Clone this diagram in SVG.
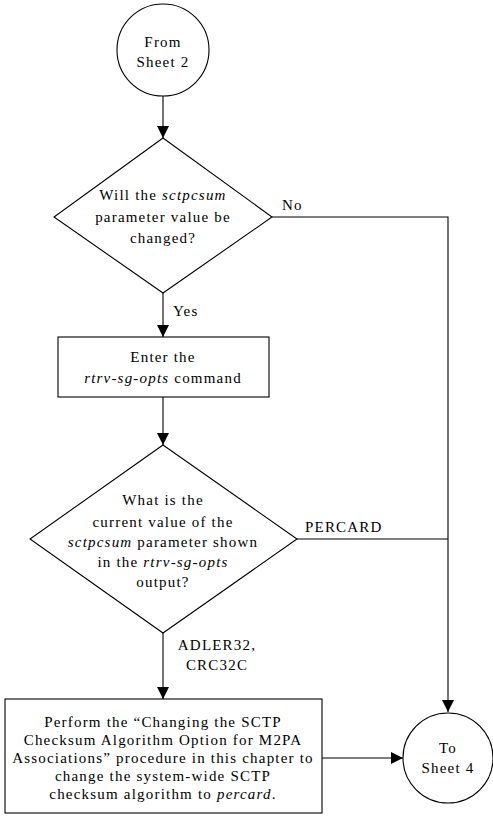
<svg xmlns="http://www.w3.org/2000/svg" width="493" height="819" viewBox="0 0 493 819">
<style>
.shape{fill:#fff;stroke:#000;stroke-width:1.1}
.line{fill:none;stroke:#000;stroke-width:1.1}
text{font-family:"Liberation Serif","Times New Roman",serif;font-size:15px;letter-spacing:1.2px;fill:#000}
.c{text-anchor:middle}
.i{font-style:italic}
</style>
<defs>
<marker id="arr" markerWidth="12" markerHeight="12" refX="12" refY="6" orient="auto" markerUnits="userSpaceOnUse">
<path d="M0,0 L12,6 L0,12 Z" fill="#000"/>
</marker>
</defs>
<rect width="493" height="819" fill="#fff"/>
<g id="connectors">
<line class="line" x1="163" y1="96" x2="163" y2="138" marker-end="url(#arr)"/>
<line class="line" x1="163" y1="293" x2="163" y2="337" marker-end="url(#arr)"/>
<line class="line" x1="163" y1="397" x2="163" y2="445" marker-end="url(#arr)"/>
<line class="line" x1="163" y1="633" x2="163" y2="699" marker-end="url(#arr)"/>
<polyline class="line" points="272,217 448,217 448,712" marker-end="url(#arr)"/>
<line class="line" x1="297" y1="539" x2="448" y2="539"/>
<line class="line" x1="322" y1="758" x2="403" y2="758" marker-end="url(#arr)"/>
<text x="282" y="210">No</text>
<text x="173" y="316">Yes</text>
<text x="305" y="532">PERCARD</text>
<text class="c" x="217" y="650">ADLER32,</text>
<text class="c" x="217" y="670">CRC32C</text>
</g>
<g id="from-sheet2">
<circle class="shape" cx="163" cy="50" r="46"/>
<text class="c" x="163" y="47">From</text>
<text class="c" x="163" y="67">Sheet 2</text>
</g>
<g id="decision1">
<polygon class="shape" points="163,138 272,217 163,293 54,217"/>
<text class="c" x="163" y="200">Will the <tspan class="i">sctpcsum</tspan></text>
<text class="c" x="163" y="222">parameter value be</text>
<text class="c" x="163" y="243">changed?</text>
</g>
<g id="enter-rtrv">
<rect class="shape" x="58" y="337" width="211" height="60"/>
<text class="c" x="163" y="362">Enter the</text>
<text class="c" x="163" y="383"><tspan class="i">rtrv-sg-opts</tspan> command</text>
</g>
<g id="decision2">
<polygon class="shape" points="163,445 297,539 163,633 30,539"/>
<text class="c" x="163" y="505">What is the</text>
<text class="c" x="163" y="527">current value of the</text>
<text class="c" x="163" y="547"><tspan class="i">sctpcsum</tspan> parameter shown</text>
<text class="c" x="163" y="567">in the <tspan class="i">rtrv-sg-opts</tspan></text>
<text class="c" x="163" y="587">output?</text>
</g>
<g id="perform-change">
<rect class="shape" x="5" y="699" width="317" height="114"/>
<text class="c" x="163" y="727">Perform the “Changing the SCTP</text>
<text class="c" x="163" y="745">Checksum Algorithm Option for M2PA</text>
<text class="c" x="163" y="763">Associations” procedure in this chapter to</text>
<text class="c" x="163" y="781">change the system-wide SCTP</text>
<text class="c" x="163" y="799">checksum algorithm to <tspan class="i">percard</tspan>.</text>
</g>
<g id="to-sheet4">
<circle class="shape" cx="448" cy="758" r="45"/>
<text class="c" x="448" y="753">To</text>
<text class="c" x="448" y="773">Sheet 4</text>
</g>
</svg>
